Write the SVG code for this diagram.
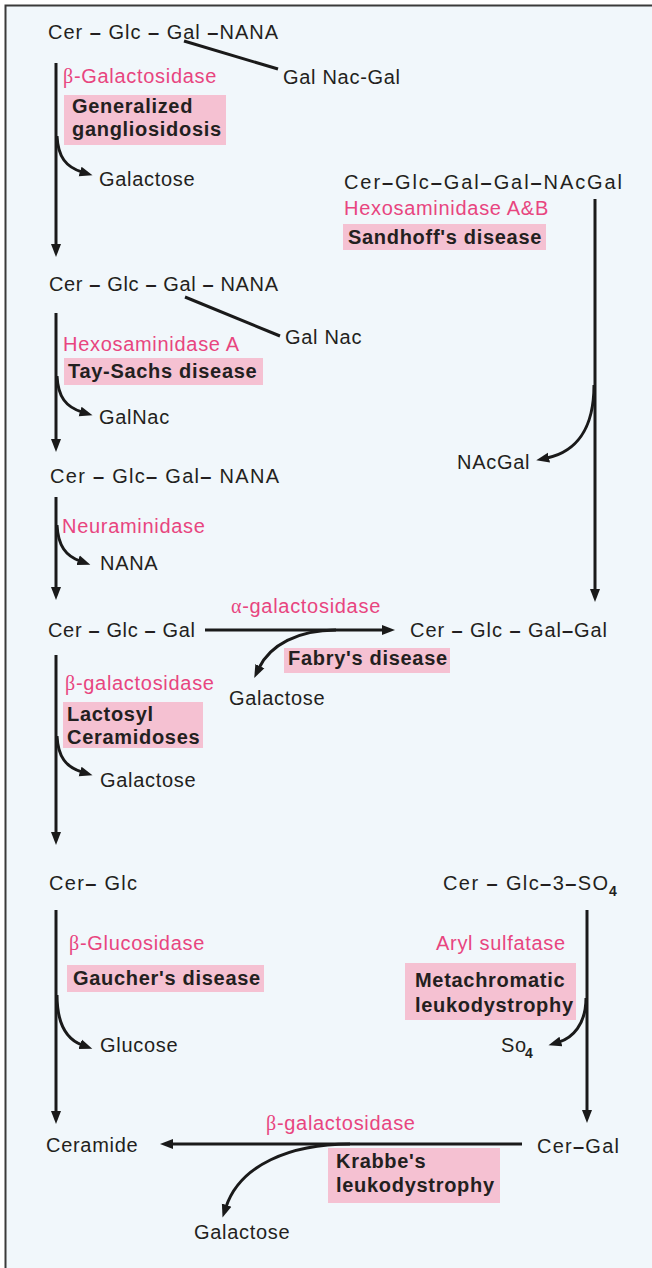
<svg xmlns="http://www.w3.org/2000/svg" width="652" height="1268" viewBox="0 0 652 1268">
<defs>
<style>
text{font-family:"Liberation Sans",Arial,sans-serif;font-size:20px;fill:#231f20;letter-spacing:0.7px}
.e{fill:#e8457f}
.b{font-weight:bold}
.g{font-family:"Liberation Serif","Times New Roman",serif}
.f{letter-spacing:0}
.sub{font-size:14px;font-weight:bold}
.box{fill:#f5c1d2}
.ln{fill:none;stroke:#1a1a1a;stroke-width:3}
.ar{fill:none;stroke:#1a1a1a;stroke-width:3;marker-end:url(#ah)}
</style>
<marker id="ah" markerUnits="userSpaceOnUse" markerWidth="14" markerHeight="11" refX="2" refY="5.5" orient="auto">
<path d="M0,0.5 L13,5.5 L0,10.5 z" fill="#1a1a1a"/>
</marker>
</defs>
<rect x="0" y="0" width="652" height="1268" fill="#ffffff"/>
<rect x="5" y="5" width="647" height="1263" fill="#f1f7fb"/>
<path d="M5.5,1268 V5.5 H652" fill="none" stroke="#3a3a3a" stroke-width="2"/>

<g id="connectors">
<line class="ln" x1="184" y1="41" x2="278" y2="69"/>
<line class="ln" x1="185" y1="297" x2="280" y2="336"/>
<line class="ar" x1="56" y1="63" x2="56" y2="246"/>
<line class="ar" x1="56" y1="313" x2="56" y2="441"/>
<line class="ar" x1="56" y1="497" x2="56" y2="589"/>
<line class="ar" x1="56" y1="655" x2="56" y2="834"/>
<line class="ar" x1="56" y1="910" x2="56" y2="1113"/>
<line class="ar" x1="595" y1="199" x2="595" y2="591"/>
<line class="ar" x1="587" y1="910" x2="587" y2="1112"/>
<line class="ar" x1="205" y1="630" x2="384" y2="630"/>
<line class="ar" x1="522" y1="1144" x2="171" y2="1144"/>
<path class="ar" d="M57,136 C58,157 66,167 82,172"/>
<path class="ar" d="M57,376 C58,397 66,407 82,412"/>
<path class="ar" d="M57,525 C58,546 66,556 80,561"/>
<path class="ar" d="M57,736 C58,757 66,767 82,772"/>
<path class="ar" d="M57,995 C57,1024 66,1039 82,1045"/>
<path class="ar" d="M594,385 C594,430 575,452 547,458"/>
<path class="ar" d="M586,998 C586,1025 572,1038 559,1042"/>
<path class="ar" d="M336,630 C298,630 270,645 259,668"/>
<path class="ar" d="M350,1144 C290,1144 240,1165 226,1207"/>
</g>

<g id="gm1">
<text class="f" x="48" y="39" textLength="230" lengthAdjust="spacing">Cer <tspan class="b">–</tspan> Glc <tspan class="b">–</tspan> Gal <tspan class="b">–</tspan>NANA</text>
<text x="283" y="84">Gal Nac-Gal</text>
</g>
<g id="step-generalized">
<text class="e" x="63" y="83"><tspan class="g">β</tspan>-Galactosidase</text>
<rect class="box" x="64" y="95" width="162" height="50"/>
<text class="b" x="72" y="113">Generalized</text>
<text class="b" x="72" y="136">gangliosidosis</text>
<text x="99" y="186">Galactose</text>
</g>
<g id="ga2">
<text class="f" x="344" y="189" textLength="278" lengthAdjust="spacing">Cer<tspan class="b">–</tspan>Glc<tspan class="b">–</tspan>Gal<tspan class="b">–</tspan>Gal<tspan class="b">–</tspan>NAcGal</text>
</g>
<g id="step-sandhoff">
<text class="e" x="344" y="215">Hexosaminidase A&amp;B</text>
<rect class="box" x="343" y="224" width="203" height="26"/>
<text class="b" x="348" y="244">Sandhoff's disease</text>
<text x="457" y="469">NAcGal</text>
</g>
<g id="gm2">
<text class="f" x="49" y="291" textLength="229" lengthAdjust="spacing">Cer <tspan class="b">–</tspan> Glc <tspan class="b">–</tspan> Gal <tspan class="b">–</tspan> NANA</text>
<text x="285" y="344">Gal Nac</text>
</g>
<g id="step-taysachs">
<text class="e" x="63" y="351">Hexosaminidase A</text>
<rect class="box" x="64" y="358" width="199" height="27"/>
<text class="b" x="68" y="378">Tay-Sachs disease</text>
<text x="99" y="424">GalNac</text>
</g>
<g id="gm3">
<text class="f" x="50" y="483" textLength="229" lengthAdjust="spacing">Cer <tspan class="b">–</tspan> Glc<tspan class="b">–</tspan> Gal<tspan class="b">–</tspan> NANA</text>
</g>
<g id="step-neuraminidase">
<text class="e" x="62" y="533">Neuraminidase</text>
<text x="100" y="570">NANA</text>
</g>
<g id="lactosylceramide">
<text class="f" x="48" y="637" textLength="147" lengthAdjust="spacing">Cer <tspan class="b">–</tspan> Glc <tspan class="b">–</tspan> Gal</text>
</g>
<g id="digalactosylceramide">
<text class="f" x="410" y="637" textLength="197" lengthAdjust="spacing">Cer <tspan class="b">–</tspan> Glc <tspan class="b">–</tspan> Gal<tspan class="b">–</tspan>Gal</text>
</g>
<g id="step-fabry">
<text class="e" x="231" y="613"><tspan class="g">α</tspan>-galactosidase</text>
<rect class="box" x="284" y="648" width="166" height="25"/>
<text class="b" x="288" y="665">Fabry's disease</text>
<text x="229" y="705">Galactose</text>
</g>
<g id="step-lactosyl">
<text class="e" x="65" y="690"><tspan class="g">β</tspan>-galactosidase</text>
<rect class="box" x="63" y="702" width="140" height="46"/>
<text class="b" x="67" y="721">Lactosyl</text>
<text class="b" x="67" y="744">Ceramidoses</text>
<text x="100" y="787">Galactose</text>
</g>
<g id="glucosylceramide">
<text class="f" x="49" y="890" textLength="88" lengthAdjust="spacing">Cer<tspan class="b">–</tspan> Glc</text>
</g>
<g id="sulfatide">
<text class="f" x="443" y="890" textLength="165" lengthAdjust="spacing">Cer <tspan class="b">–</tspan> Glc<tspan class="b">–</tspan>3<tspan class="b">–</tspan>SO</text>
<text class="sub" x="609" y="896">4</text>
</g>
<g id="step-gaucher">
<text class="e" x="69" y="950"><tspan class="g">β</tspan>-Glucosidase</text>
<rect class="box" x="67" y="965" width="197" height="27"/>
<text class="b" x="73" y="985">Gaucher's disease</text>
<text x="100" y="1052">Glucose</text>
</g>
<g id="step-mld">
<text class="e" x="436" y="950">Aryl sulfatase</text>
<rect class="box" x="405" y="963" width="171" height="57"/>
<text class="b" x="415" y="987">Metachromatic</text>
<text class="b" x="415" y="1012">leukodystrophy</text>
<text x="501" y="1052">So</text>
<text class="sub" x="525" y="1058">4</text>
</g>
<g id="galactosylceramide">
<text class="f" x="537" y="1153" textLength="82" lengthAdjust="spacing">Cer<tspan class="b">–</tspan>Gal</text>
</g>
<g id="ceramide">
<text x="46" y="1152">Ceramide</text>
</g>
<g id="step-krabbe">
<text class="e" x="266" y="1130"><tspan class="g">β</tspan>-galactosidase</text>
<rect class="box" x="328" y="1148" width="172" height="55"/>
<text class="b" x="336" y="1168">Krabbe's</text>
<text class="b" x="336" y="1192">leukodystrophy</text>
<text x="194" y="1239">Galactose</text>
</g>
</svg>
